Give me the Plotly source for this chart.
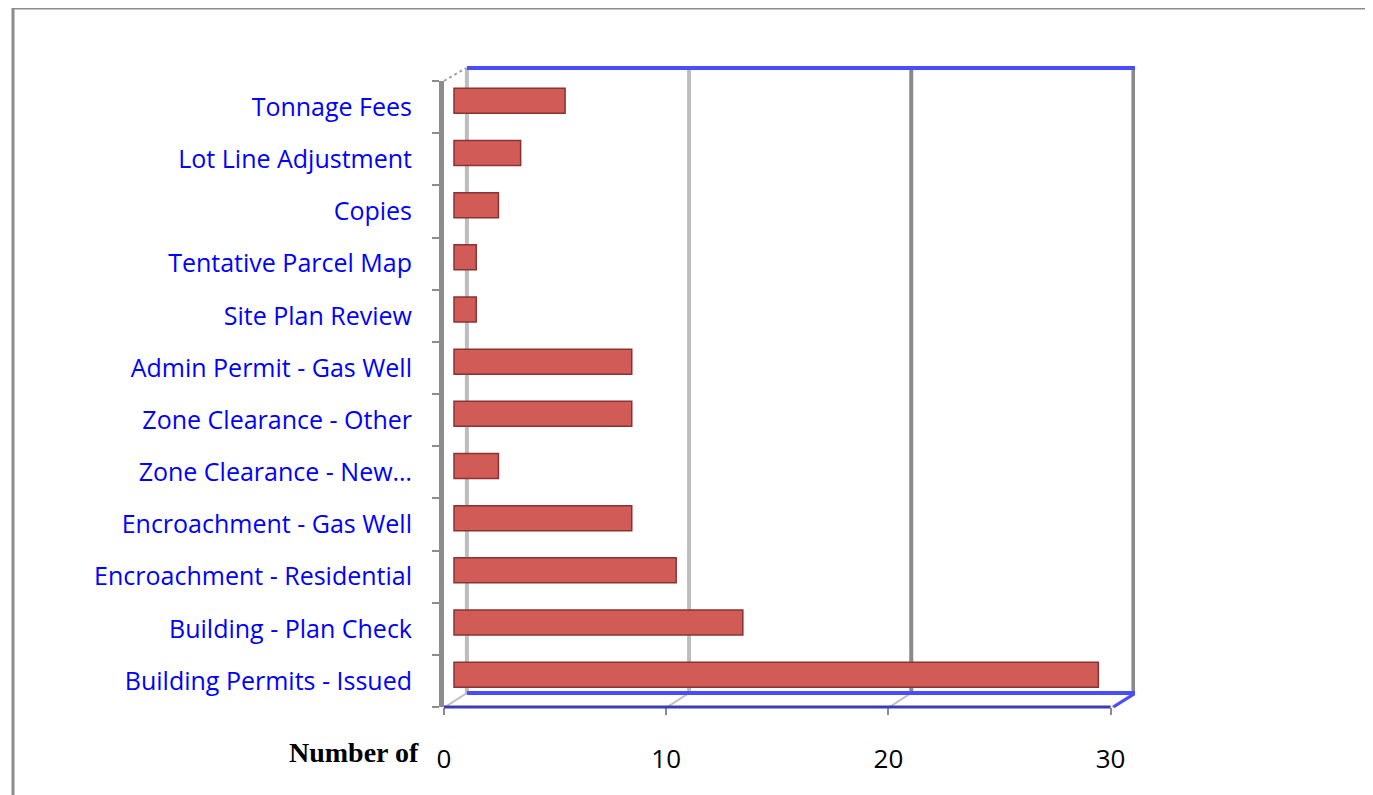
import plotly.graph_objects as go

# ---- data (bottom to top) ----
categories = [
    "Building Permits - Issued",
    "Building - Plan Check",
    "Encroachment - Residential",
    "Encroachment - Gas Well",
    "Zone Clearance - New…",
    "Zone Clearance - Other",
    "Admin Permit - Gas Well",
    "Site Plan Review",
    "Tentative Parcel Map",
    "Copies",
    "Lot Line Adjustment",
    "Tonnage Fees",
]
values = [29, 13, 10, 8, 2, 8, 8, 1, 1, 2, 3, 5]
x_ticks = [0, 10, 20, 30]
x_title = "Number of"

# ---- geometry helpers (screen pixel layout; page body has an 8px margin) ----
W, H = 1373, 795
OFF = 8
L, R, T, B = 444, 1135, 81, 707          # plot area edges on screen (px)
pw, ph = R - L, B - T
def px(x):
    return (x - L) / pw
def py(y):
    return (B - y) / ph

front_max = 31.1
depth = 1.03          # back wall shift in data units
mid = 0.45            # bar shift in data units
lift = 0.12           # bar lift in category units

fig = go.Figure()
fig.add_trace(go.Bar(
    y=categories, x=values, orientation="h",
    xaxis="x3", yaxis="y2",
    marker=dict(color="#D05B57", line=dict(color="#8A3331", width=1.5)),
    width=0.48, showlegend=False, hoverinfo="x+y",
))

shapes = []
# outer frame
shapes.append(dict(type="rect", xref="paper", yref="paper",
                   x0=px(13), x1=px(W + 20), y0=py(H + 20), y1=py(8),
                   line=dict(color="#8C8C8C", width=3), layer="below"))
# back wall gridlines
grid_colors = ["#BDBDBD", "#BDBDBD", "#8A8A8A", "#8A8A8A"]
for v, c in zip(x_ticks, grid_colors):
    shapes.append(dict(type="line", xref="x2", yref="paper",
                       x0=v, x1=v, y0=py(693), y1=py(68),
                       line=dict(color=c, width=4), layer="below"))
    shapes.append(dict(type="line", xref="x2", yref="paper",
                       x0=v, x1=v - depth + 0.05, y0=py(693), y1=py(707),
                       line=dict(color="#BDBDBD", width=2), layer="below"))
# right edge of back wall
shapes.append(dict(type="line", xref="x2", yref="paper",
                   x0=30.07, x1=30.07, y0=py(693), y1=py(68),
                   line=dict(color="#8A8A8A", width=4), layer="below"))
# top blue line
shapes.append(dict(type="line", xref="x2", yref="paper",
                   x0=0, x1=30.1, y0=py(68), y1=py(68),
                   line=dict(color="#4B4BFF", width=4), layer="below"))
# back floor blue line
shapes.append(dict(type="line", xref="x2", yref="paper",
                   x0=0, x1=30.1, y0=py(693), y1=py(693),
                   line=dict(color="#4B4BFF", width=4), layer="below"))
# right floor diagonal
shapes.append(dict(type="line", xref="x2", yref="paper",
                   x0=30.1, x1=29.1, y0=py(693), y1=py(707),
                   line=dict(color="#4B4BFF", width=3), layer="below"))
# front floor line
shapes.append(dict(type="line", xref="x", yref="paper",
                   x0=0, x1=30, y0=0, y1=0,
                   line=dict(color="#3C3CB4", width=3)))
# top-left diagonal
shapes.append(dict(type="line", xref="paper", yref="paper",
                   x0=0, x1=px(466), y0=1, y1=py(68),
                   line=dict(color="#A0A0A0", width=2, dash="dot"), layer="below"))

fig.update_layout(
    width=W - OFF, height=H - OFF,
    margin=dict(l=L - OFF, r=W - R, t=T - OFF, b=H - B),
    paper_bgcolor="white", plot_bgcolor="rgba(0,0,0,0)",
    font=dict(family="Open Sans", color="black"),
    xaxis=dict(range=[0, front_max], tickvals=x_ticks, ticks="outside",
               ticklen=7, tickwidth=1.5, tickcolor="#8C8C8C",
               showgrid=False, zeroline=False, showline=False,
               tickfont=dict(family="Open Sans", size=26, color="black"),
               ticklabelstandoff=22, fixedrange=True),
    xaxis2=dict(overlaying="x", range=[-depth, front_max - depth],
                visible=False, showgrid=False, zeroline=False),
    xaxis3=dict(overlaying="x", range=[-mid, front_max - mid],
                visible=False, showgrid=False, zeroline=False),
    yaxis=dict(type="category", categoryorder="array", categoryarray=categories,
               range=[-0.5, len(categories) - 0.5],
               tickson="boundaries", ticks="outside", ticklen=7, tickwidth=1.5,
               tickcolor="#8C8C8C", showline=True, linecolor="#8C8C8C",
               linewidth=5, showgrid=False, zeroline=False,
               tickfont=dict(family="Open Sans", size=25, color="#0000FF"),
               ticklabelstandoff=22, fixedrange=True),
    yaxis2=dict(type="category", overlaying="y", categoryorder="array",
                categoryarray=categories,
                range=[-0.5 - lift, len(categories) - 0.5 - lift],
                visible=False, showgrid=False),
    shapes=shapes,
    annotations=[dict(text=x_title, xref="paper", yref="paper",
                      x=px(421), y=py(752), xanchor="right", yanchor="middle",
                      showarrow=False,
                      font=dict(family="Liberation Serif", size=28,
                                color="black", weight="bold"))],
)

fig.write_html("out.html")
